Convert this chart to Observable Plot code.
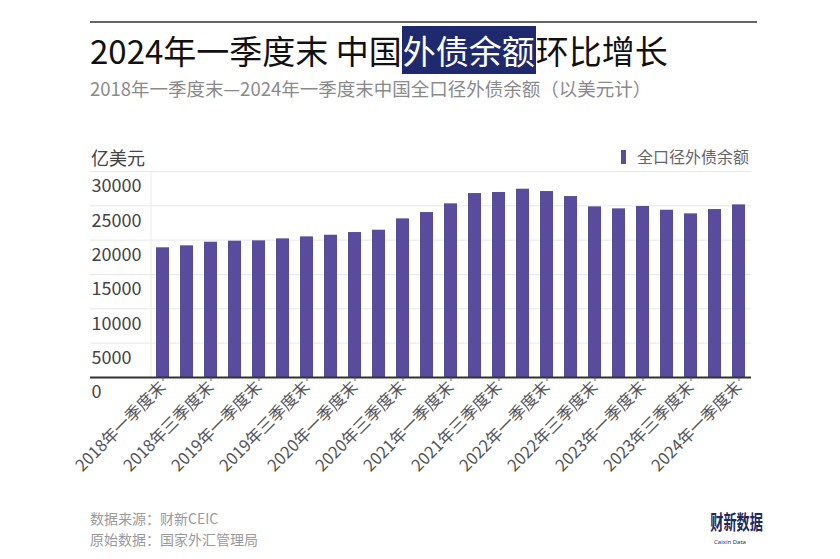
<!DOCTYPE html>
<html><head><meta charset="utf-8">
<script src="https://cdn.jsdelivr.net/npm/d3@7"></script>
<script src="https://cdn.jsdelivr.net/npm/@observablehq/plot@0.6"></script>
<style>
body{margin:0;background:#fff;font-family:"Noto Sans CJK SC","Noto Sans",sans-serif;}
#wrap{position:relative;width:840px;height:559px;overflow:hidden;background:#fff;}
#header{position:relative;height:166px;}
.rule{position:absolute;left:90px;top:21px;width:667px;height:2px;background:#666;}
.title{position:absolute;left:90px;top:30px;font-size:33px;line-height:40px;color:#111;font-weight:400;white-space:nowrap;}
.hl{background:#1f2a6e;color:#fff;padding:0 1px;}
.sub{position:absolute;left:90px;top:76px;font-size:18.5px;line-height:24px;color:#8a8a8a;white-space:nowrap;}
.unit{position:absolute;left:91px;top:145px;font-size:18px;line-height:24px;color:#444;}
.legend{position:absolute;left:621px;top:144px;font-size:16px;line-height:24px;color:#666;white-space:nowrap;}
.sw{display:inline-block;width:5px;height:14px;background:#594c9c;margin-right:11px;vertical-align:-1px;}
#chart{position:relative;height:320px;}
#footer{position:relative;height:73px;}
.src{position:absolute;left:90px;font-size:14px;line-height:20px;color:#9a9a9a;white-space:nowrap;}
.logo{position:absolute;left:700px;top:26px;width:60px;text-align:center;color:#1e2a5e;}
.logo .big{font-size:20px;font-weight:700;line-height:20px;height:20px;transform:scaleX(0.66);transform-origin:center;white-space:nowrap;}
.logo .small{font-size:6px;line-height:7px;margin-top:7px;font-family:"Noto Sans",sans-serif;white-space:nowrap;}
</style></head><body>
<div id="wrap">
  <div id="header">
    <div class="rule"></div>
    <div class="title">2024年一季度末 中国<span class="hl">外债余额</span>环比增长</div>
    <div class="sub">2018年一季度末—2024年一季度末中国全口径外债余额（以美元计）</div>
    <div class="unit">亿美元</div>
    <div class="legend"><span class="sw"></span>全口径外债余额</div>
  </div>
  <div id="chart"></div>
  <div id="footer">
    <div class="src" style="top:22px">数据来源：财新CEIC</div>
    <div class="src" style="top:43px">原始数据：国家外汇管理局</div>
    <div class="logo"><div class="big">财新数据</div><div class="small">Caixin Data</div></div>
  </div>
</div>
<script>
const quarters = [
  "2018年一季度末","2018年二季度末","2018年三季度末","2018年四季度末",
  "2019年一季度末","2019年二季度末","2019年三季度末","2019年四季度末",
  "2020年一季度末","2020年二季度末","2020年三季度末","2020年四季度末",
  "2021年一季度末","2021年二季度末","2021年三季度末","2021年四季度末",
  "2022年一季度末","2022年二季度末","2022年三季度末","2022年四季度末",
  "2023年一季度末","2023年二季度末","2023年三季度末","2023年四季度末",
  "2024年一季度末"
];
const debt = [
  18890, 19180, 19700, 19850,
  19900, 20190, 20480, 20720,
  21110, 21450, 23100, 24020,
  25290, 26790, 26940, 27420,
  27080, 26350, 24850, 24560,
  24900, 24360, 23830, 24460,
  25140
];
const xTickLabels = [
  "2018年一季度末","2018年三季度末","2019年一季度末","2019年三季度末",
  "2020年一季度末","2020年三季度末","2021年一季度末","2021年三季度末",
  "2022年一季度末","2022年三季度末","2023年一季度末","2023年三季度末",
  "2024年一季度末"
];
const yTicks = [0, 5000, 10000, 15000, 20000, 25000, 30000];
const gridTicks = [5000, 10000, 15000, 20000, 25000, 30000];

const data = quarters.map((q, i) => ({q, v: debt[i]}));
const FONT = '"Noto Sans CJK SC","Noto Sans",sans-serif';

const chart = Plot.plot({
  width: 840,
  height: 320,
  marginLeft: 90,
  marginRight: 89,
  marginTop: 5,
  marginBottom: 109,
  style: {fontFamily: FONT, background: "transparent", overflow: "visible"},
  x: {domain: quarters, range: [150, 751], paddingInner: 0.46, paddingOuter: 0.23, label: null},
  y: {domain: [0, 30000], label: null, axis: null},
  marks: [
    Plot.ruleY(gridTicks, {stroke: "#e8e8e8", strokeWidth: 1}),
    Plot.ruleX([quarters[0]], {dx: -12, stroke: "#ececec", strokeWidth: 1}),
    Plot.barY(data, {x: "q", y: "v", fill: "#594c9c"}),
    Plot.ruleY([0], {stroke: "#333", strokeWidth: 2}),
    Plot.axisX({ticks: xTickLabels, tickRotate: -45, tickSize: 4, tickPadding: 3, fontSize: 16.5, color: "#555", label: null}),
    Plot.text(yTicks, {y: d => d, text: d => String(d), frameAnchor: "left", textAnchor: "start", dx: 1, dy: 15, fontSize: 18, fill: "#444"})
  ]
});
document.getElementById("chart").appendChild(chart);
</script>
</body></html>
